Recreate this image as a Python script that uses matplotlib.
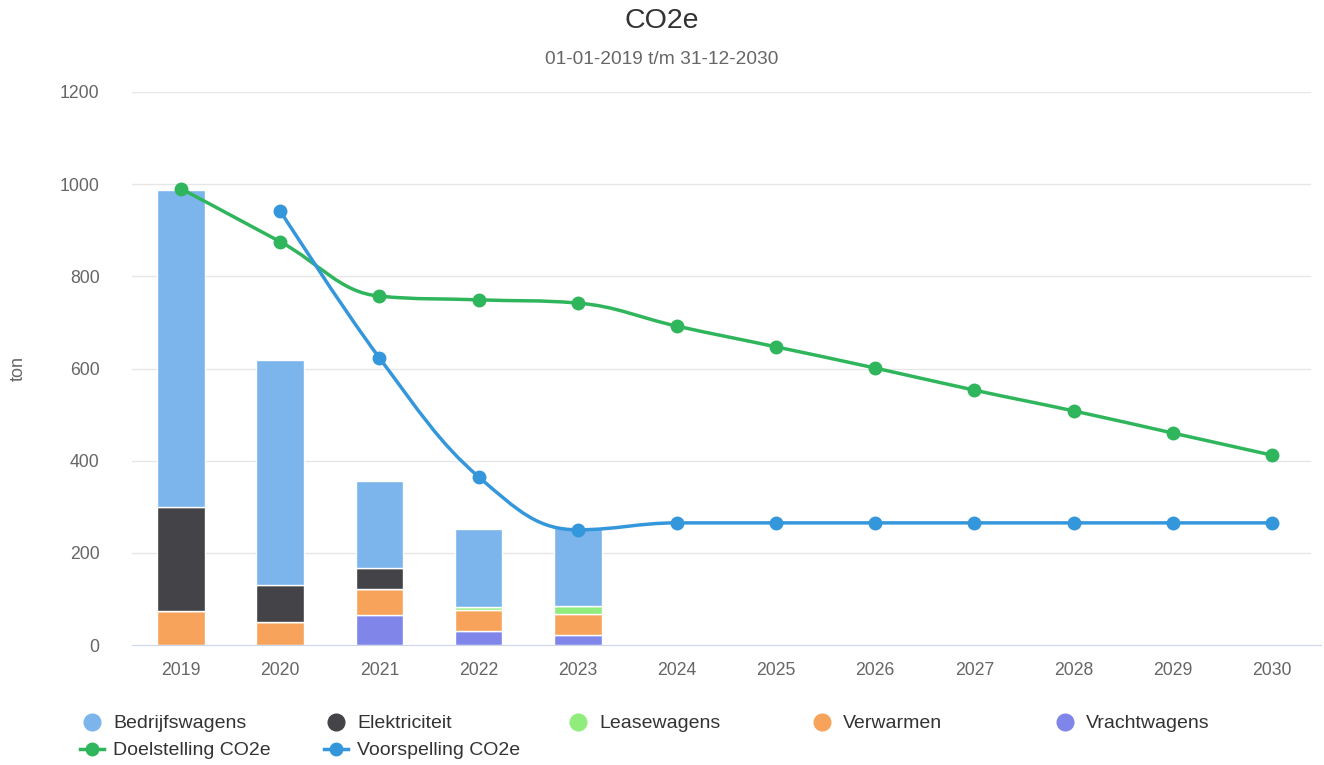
import matplotlib.pyplot as plt
from matplotlib.path import Path
from matplotlib.patches import PathPatch
from matplotlib.lines import Line2D
import numpy as np

plt.rcParams['font.family'] = ['Liberation Sans', 'DejaVu Sans']

years = ['2019', '2020', '2021', '2022', '2023', '2024', '2025',
         '2026', '2027', '2028', '2029', '2030']

# stapels (ton), alleen 2019-2023
vrachtwagens = [0, 0, 65, 30, 22]
verwarmen = [74, 50, 56, 46, 45]
leasewagens = [0, 0, 0, 7, 18]
elektriciteit = [225, 80, 46, 0, 0]
bedrijfswagens = [688, 488, 189, 169, 171]

doelstelling = [990, 875, 757, 749, 742, 692, 647, 601, 553, 508, 460, 412]
voorspelling = [None, 942, 623, 365, 250, 265, 265, 265, 265, 265, 265, 265]

kleuren = {
    'Bedrijfswagens': '#7cb5ec',
    'Elektriciteit': '#434348',
    'Leasewagens': '#90ed7d',
    'Verwarmen': '#f7a35c',
    'Vrachtwagens': '#8085e9',
}
groen = '#2fb55c'
blauw = '#3597db'


def spline_path(xs, ys, smoothing=1.5):
    # highcharts-achtige spline als bezier path
    verts = [(xs[0], ys[0])]
    codes = [Path.MOVETO]
    n = len(xs)
    ctrl = []
    for i in range(n):
        x, y = xs[i], ys[i]
        if i == 0 or i == n - 1:
            ctrl.append(((x, y), (x, y)))
            continue
        lx, ly = xs[i - 1], ys[i - 1]
        nx, ny = xs[i + 1], ys[i + 1]
        d = smoothing + 1
        lcx = (smoothing * x + lx) / d
        lcy = (smoothing * y + ly) / d
        rcx = (smoothing * x + nx) / d
        rcy = (smoothing * y + ny) / d
        if rcx != lcx:
            corr = (rcy - lcy) * (rcx - x) / (rcx - lcx) + y - rcy
            lcy += corr
            rcy += corr
        if lcy > max(ly, y):
            lcy = max(ly, y)
            rcy = 2 * y - lcy
        elif lcy < min(ly, y):
            lcy = min(ly, y)
            rcy = 2 * y - lcy
        if rcy > max(ny, y):
            rcy = max(ny, y)
            lcy = 2 * y - rcy
        elif rcy < min(ny, y):
            rcy = min(ny, y)
            lcy = 2 * y - rcy
        ctrl.append(((lcx, lcy), (rcx, rcy)))
    for i in range(1, n):
        verts += [ctrl[i - 1][1], ctrl[i][0], (xs[i], ys[i])]
        codes += [Path.CURVE4] * 3
    return Path(verts, codes)


fig = plt.figure(figsize=(13.24, 7.65), dpi=100)
ax = fig.add_axes([131.5 / 1324, 1 - 645 / 765, (1321.5 - 131.5) / 1324, (645 - 92) / 765])

x = np.arange(len(years))
xb = x[:len(bedrijfswagens)]
w = 0.48
bottom = np.zeros(len(xb))
for naam, vals in [('Vrachtwagens', vrachtwagens), ('Verwarmen', verwarmen),
                   ('Leasewagens', leasewagens), ('Elektriciteit', elektriciteit),
                   ('Bedrijfswagens', bedrijfswagens)]:
    vals = np.array(vals, dtype=float)
    ax.bar(xb, vals, w, bottom=bottom, color=kleuren[naam], edgecolor='white',
           linewidth=1, zorder=2)
    bottom += vals

# lijnen
ax.add_patch(PathPatch(spline_path(list(x), doelstelling), fill=False,
                       edgecolor=groen, lw=2.5, zorder=3))
ax.plot(x, doelstelling, 'o', color=groen, ms=9, zorder=4)
vx = [xi for xi, v in zip(x, voorspelling) if v is not None]
vy = [v for v in voorspelling if v is not None]
ax.add_patch(PathPatch(spline_path(vx, vy), fill=False,
                       edgecolor=blauw, lw=2.5, zorder=3))
ax.plot(vx, vy, 'o', color=blauw, ms=9, zorder=4)

ax.set_xlim(-0.5, len(years) - 0.5)
ax.set_ylim(0, 1200)
ax.set_yticks(range(0, 1201, 200))
ax.set_xticks(x)
ax.set_xticklabels(years)
for t in range(200, 1201, 200):
    ax.axhline(t, xmax=0.99, color='#e6e6e6', lw=1, zorder=0)
for s in ['top', 'right', 'left']:
    ax.spines[s].set_visible(False)
ax.spines['bottom'].set_color('#ccd6eb')
ax.tick_params(axis='y', length=0, labelsize=12.7, labelcolor='#666666', pad=23)
ax.tick_params(axis='x', length=0, labelsize=12.7, labelcolor='#666666', pad=12)
fig.text(18 / 1324, 1 - 368 / 765, 'ton', rotation=90, ha='center', va='center',
         fontsize=13, color='#666666')

fig.text(0.5, 1 - 21 / 765, 'CO2e', ha='center', va='center', fontsize=20.5, color='#333333')
fig.text(0.5, 1 - 60 / 765, '01-01-2019 t/m 31-12-2030', ha='center', va='center',
         fontsize=13.8, color='#666666')

# legenda
items = [('Bedrijfswagens', kleuren['Bedrijfswagens'], False, 92, 722),
         ('Elektriciteit', kleuren['Elektriciteit'], False, 336, 722),
         ('Leasewagens', kleuren['Leasewagens'], False, 578, 722),
         ('Verwarmen', kleuren['Verwarmen'], False, 822, 722),
         ('Vrachtwagens', kleuren['Vrachtwagens'], False, 1065, 722),
         ('Doelstelling CO2e', groen, True, 92, 749),
         ('Voorspelling CO2e', blauw, True, 336, 749)]
for naam, kleur, lijn, px, py in items:
    fx, fy = px / 1324, 1 - py / 765
    if lijn:
        fig.add_artist(Line2D([fx - 12 / 1324, fx + 12 / 1324], [fy, fy],
                              color=kleur, lw=2.5, transform=fig.transFigure))
    fig.add_artist(Line2D([fx], [fy], marker='o', ms=12 if not lijn else 9,
                          color=kleur, transform=fig.transFigure))
    fig.text(fx + 21 / 1324, fy - 1.5 / 765, naam, ha='left', va='center',
             fontsize=14, color='#333333')

fig.savefig('out.png', dpi=100)
